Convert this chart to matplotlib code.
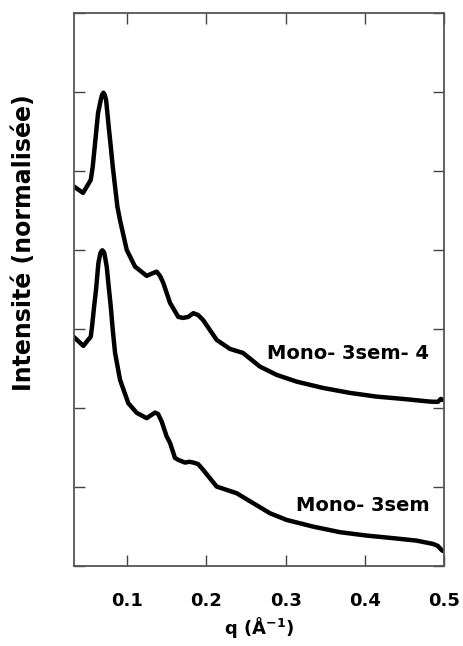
import numpy as np
import matplotlib
matplotlib.use("Agg")
import matplotlib.pyplot as plt

plt.rcParams['font.family'] = ['DejaVu Sans']
plt.rcParams['font.weight'] = 'bold'

# Mono- 3sem- 4 (upper curve, shifted)
q_upper = [0.0337, 0.0450, 0.0547, 0.0572, 0.0589, 0.0614, 0.0639, 0.0673, 0.0690,
           0.0706, 0.0722, 0.0740, 0.0756, 0.0777, 0.0799, 0.0824, 0.0853, 0.0882,
           0.0916, 0.1000, 0.1104, 0.1251, 0.1306, 0.1377, 0.1419, 0.1460, 0.1545,
           0.1649, 0.1708, 0.1775, 0.1838, 0.1897, 0.1960, 0.2132, 0.2299, 0.2463,
           0.2677, 0.2887, 0.3138, 0.3469, 0.3809, 0.4145, 0.4475, 0.4815, 0.4916,
           0.4953, 0.4978]
i_upper = [4.801, 4.722, 4.886, 5.054, 5.228, 5.481, 5.734, 5.899, 5.965,
           5.990, 5.965, 5.899, 5.734, 5.519, 5.308, 5.054, 4.801, 4.548,
           4.373, 4.000, 3.789, 3.671, 3.696, 3.725, 3.671, 3.582, 3.329,
           3.152, 3.139, 3.152, 3.199, 3.177, 3.114, 2.861, 2.747, 2.696,
           2.523, 2.418, 2.333, 2.253, 2.190, 2.143, 2.114, 2.080, 2.076,
           2.114, 2.101]

# Mono- 3sem (lower curve)
q_lower = [0.0337, 0.0454, 0.0547, 0.0563, 0.0589, 0.0614, 0.0643, 0.0668, 0.0681,
           0.0693, 0.0706, 0.0718, 0.0748, 0.0773, 0.0799, 0.0824, 0.0853, 0.0916,
           0.1020, 0.1126, 0.1251, 0.1293, 0.1356, 0.1394, 0.1440, 0.1503, 0.1545,
           0.1607, 0.1649, 0.1733, 0.1790, 0.1838, 0.1897, 0.1963, 0.2132, 0.2384,
           0.2592, 0.2802, 0.3012, 0.3347, 0.3683, 0.4019, 0.4353, 0.4648, 0.4857,
           0.4916, 0.4962, 0.4978]
i_lower = [2.895, 2.785, 2.903, 3.029, 3.282, 3.502, 3.832, 3.958, 3.982,
           3.995, 3.982, 3.958, 3.789, 3.535, 3.282, 2.987, 2.696, 2.354,
           2.059, 1.937, 1.870, 1.899, 1.941, 1.924, 1.827, 1.637, 1.557,
           1.367, 1.342, 1.308, 1.318, 1.308, 1.290, 1.215, 1.004, 0.920,
           0.794, 0.667, 0.582, 0.497, 0.427, 0.384, 0.351, 0.320, 0.278,
           0.253, 0.203, 0.190]

labels = ['Mono- 3sem- 4', 'Mono- 3sem']
x_ticks = [0.1, 0.2, 0.3, 0.4, 0.5]
x_tick_labels = ['0.1', '0.2', '0.3', '0.4', '0.5']

fig = plt.figure(figsize=(4.63, 6.46), dpi=100)
ax = fig.add_axes([0.160, 0.124, 0.800, 0.856])

for q, i in [(q_upper, i_upper), (q_lower, i_lower)]:
    ax.plot(q, i, color='black', lw=3.2, solid_joinstyle='round', solid_capstyle='round')

ax.text(0.4803, 2.69, labels[0], ha='right', va='center', fontsize=14, fontweight='bold')
ax.text(0.4815, 0.76, labels[1], ha='right', va='center', fontsize=14, fontweight='bold')

ax.set_xlim(0.0337, 0.5)
ax.set_ylim(0, 7)
ax.set_xticks(x_ticks)
ax.set_xticklabels(x_tick_labels)
ax.set_yticks(np.arange(0, 8, 1))
ax.set_yticklabels([])
ax.tick_params(direction='in', length=8, width=1, color='#444444',
               top=True, right=True, labelsize=13, pad=19)
for s in ax.spines.values():
    s.set_color('#555555')
    s.set_linewidth(1.3)

# axis titles placed in figure pixels
fig.text(259 / 463, 1 - 627 / 646, 'q (Å$^{\\mathbf{-1}}$)', ha='center', va='center',
         fontsize=13, fontweight='bold')
fig.text(24 / 463, 1 - 243 / 646, 'Intensité (normalisée)', rotation=90,
         ha='center', va='center', fontsize=17, fontweight='bold')

fig.savefig('out.png', dpi=100)
